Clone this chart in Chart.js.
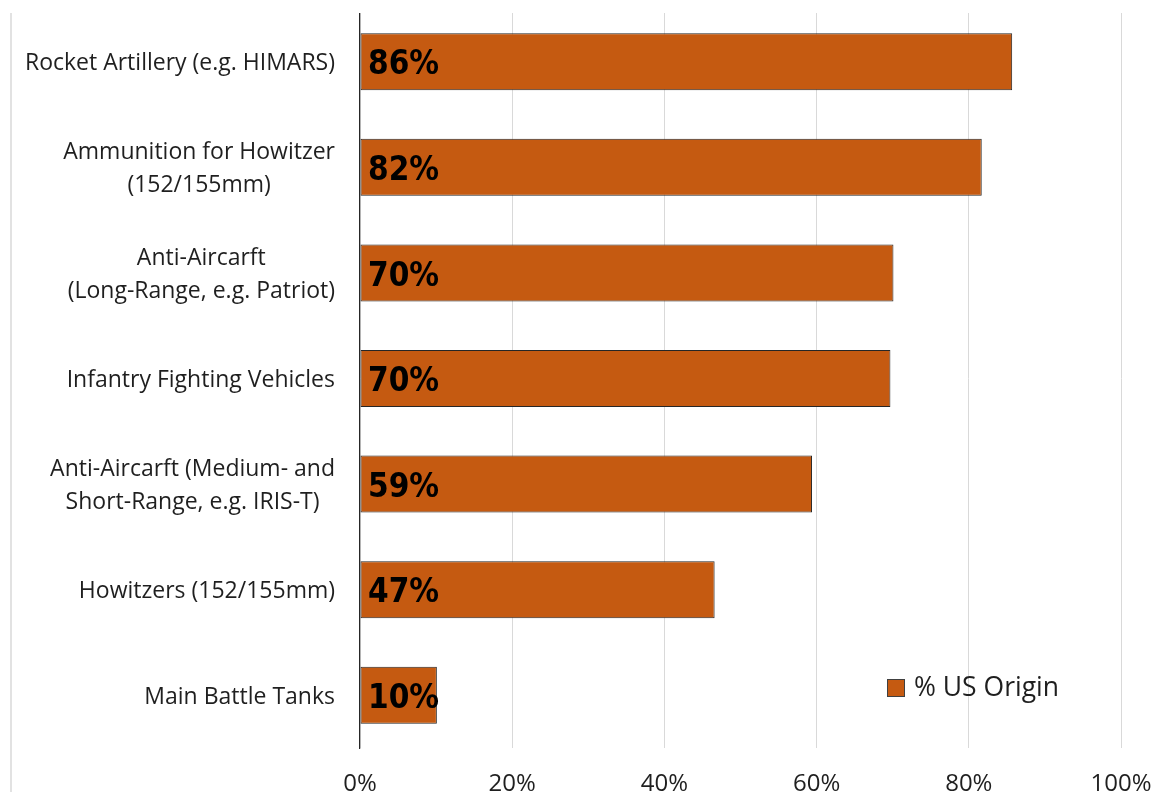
<!DOCTYPE html>
<html>
<head>
<meta charset="utf-8">
<script src="https://cdn.jsdelivr.net/npm/chart.js@4.4.1/dist/chart.umd.min.js"></script>
<style>
  html, body { margin: 0; padding: 0; background: #fff; overflow: hidden; }
  #wrap { position: relative; width: 1155px; height: 792px; }
</style>
</head>
<body>
<div id="wrap"><canvas id="chart"></canvas></div>
<script>
const CATEGORIAS = [
  ["Rocket Artillery (e.g. HIMARS)"],
  ["Ammunition for Howitzer", "(152/155mm)"],
  ["Anti-Aircarft", "(Long-Range, e.g. Patriot)"],
  ["Infantry Fighting Vehicles"],
  ["Anti-Aircarft (Medium- and", "Short-Range, e.g. IRIS-T)"],
  ["Howitzers (152/155mm)"],
  ["Main Battle Tanks"],
];
const US_ORIGEM = [0.857, 0.817, 0.701, 0.697, 0.594, 0.466, 0.101];
const ROTULOS   = ["86%", "82%", "70%", "70%", "59%", "47%", "10%"];
const SERIE     = "% US Origin";
const TICKS_X   = [0, 0.2, 0.4, 0.6, 0.8, 1.0];

const COR_BARRA = "#C55A11";
const COR_TEXTO = "#1f1f1f";
const FONTE     = "'Open Sans', sans-serif";

const plugEtiquetas = {
  id: "etiquetas",
  beforeDraw(chart) {
    const { ctx } = chart;
    ctx.save();
    ctx.strokeStyle = "#d9d9d9";
    ctx.lineWidth = 1.5;
    ctx.beginPath();
    ctx.moveTo(11, 13);
    ctx.lineTo(11, chart.height);
    ctx.stroke();
    ctx.restore();
  },
  beforeDatasetsDraw(chart) {
    // gridlines and axis line start a little below the first band
    const { ctx, chartArea } = chart;
    ctx.save();
    ctx.fillStyle = "#fff";
    ctx.fillRect(chartArea.left - 3, 0, chartArea.width + 6, 13);
    ctx.restore();
  },
  afterDraw(chart) {
    const { ctx, chartArea } = chart;
    const y = chart.scales.y;
    ctx.save();

    // category labels, lines centred on each other, block right aligned
    ctx.font = "23px " + FONTE;
    ctx.fillStyle = COR_TEXTO;
    ctx.textAlign = "center";
    ctx.textBaseline = "middle";
    const lineH = 33;
    CATEGORIAS.forEach((linhas, i) => {
      const cy = y.getPixelForTick(i) + 2;
      const w = Math.max(...linhas.map(l => ctx.measureText(l).width));
      const cx = chartArea.left - 25 - w / 2;
      const y0 = cy - (linhas.length - 1) * lineH / 2;
      linhas.forEach((l, k) => ctx.fillText(l, cx, y0 + k * lineH));
    });

    // value labels inside bars
    ctx.font = "bold 33px 'DejaVu Sans', sans-serif";
    ctx.fillStyle = "#000";
    ctx.textAlign = "left";
    const meta = chart.getDatasetMeta(0);
    meta.data.forEach((bar, i) => {
      ctx.save();
      ctx.translate(chartArea.left + 8, bar.y + 4);
      ctx.scale(0.9, 1);
      ctx.fillText(ROTULOS[i], 0, 0);
      ctx.restore();
    });

    // legend inside plot
    const lx = chartArea.right - 234;
    const ly = chartArea.bottom - 60;
    ctx.fillStyle = COR_BARRA;
    ctx.fillRect(lx, ly - 9, 18, 18);
    ctx.strokeStyle = "#404040";
    ctx.lineWidth = 1;
    ctx.strokeRect(lx + 0.5, ly - 8.5, 17, 17);
    ctx.font = "26.5px " + FONTE;
    ctx.fillStyle = COR_TEXTO;
    ctx.fillText(SERIE, lx + 27, ly);
    ctx.restore();
  }
};

new Chart(document.getElementById("chart"), {
  type: "bar",
  data: {
    labels: CATEGORIAS,
    datasets: [{
      label: SERIE,
      data: US_ORIGEM,
      backgroundColor: COR_BARRA,
      borderColor: "#262626",
      borderWidth: 1,
      borderSkipped: false,
      categoryPercentage: 1,
      barPercentage: 0.54,
    }]
  },
  options: {
    indexAxis: "y",
    responsive: true,
    maintainAspectRatio: false,
    animation: false,
    layout: { padding: { top: 9, right: 34, left: 0, bottom: 0 } },
    plugins: { legend: { display: false }, tooltip: { enabled: false } },
    scales: {
      x: {
        min: 0, max: 1,
        afterBuildTicks: s => { s.ticks = TICKS_X.map(v => ({ value: v })); },
        afterFit: s => { s.height = 44; s.paddingLeft = 0; s.paddingRight = 0; },
        grid: { color: "#d9d9d9", lineWidth: 1, drawTicks: false },
        border: { display: false },
        ticks: {
          padding: 22,
          color: COR_TEXTO,
          font: { family: "'Open Sans', sans-serif", size: 24 },
          callback: v => Math.round(v * 100) + "%",
        }
      },
      y: {
        afterFit: s => { s.width = 360; },
        grid: { display: false },
        border: { display: true, color: "#262626", width: 1.2 },
        ticks: { display: false },
      }
    }
  },
  plugins: [plugEtiquetas]
});
</script>
</body>
</html>
